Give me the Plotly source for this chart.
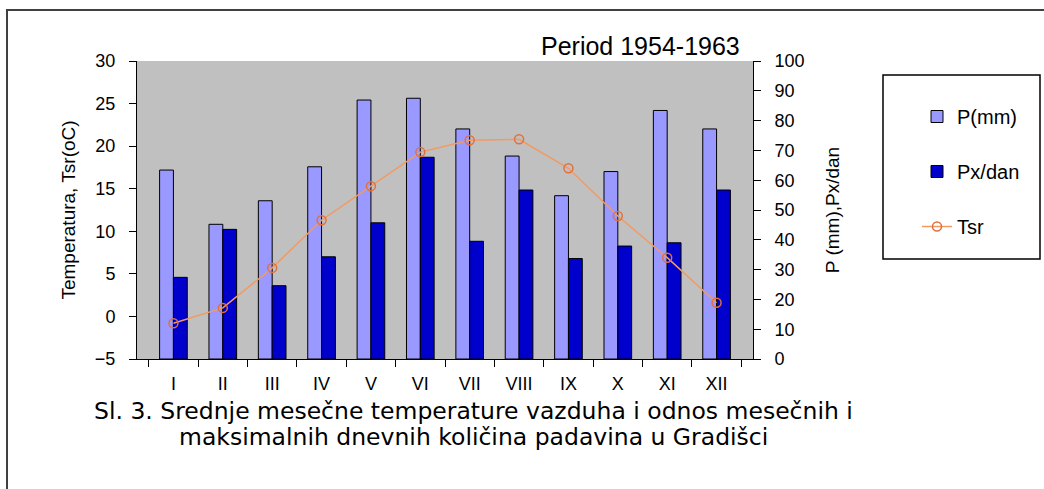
import plotly.graph_objects as go

# ---- data ----
months = ["I", "II", "III", "IV", "V", "VI", "VII", "VIII", "IX", "X", "XI", "XII"]
p_mm = [63.4, 45.2, 53.1, 64.5, 86.9, 87.5, 77.2, 68.1, 54.8, 62.9, 83.4, 77.2]
px_dan = [27.4, 43.5, 24.6, 34.3, 45.7, 67.7, 39.5, 56.7, 33.7, 37.9, 39.0, 56.7]
tsr = [-0.8, 1.0, 5.7, 11.3, 15.3, 19.3, 20.7, 20.8, 17.4, 11.8, 6.9, 1.6]

temp_ticks = [-5, 0, 5, 10, 15, 20, 25, 30]
prec_ticks = [0, 10, 20, 30, 40, 50, 60, 70, 80, 90, 100]

period_text = "Period 1954-1963"
caption_1 = "Sl. 3. Srednje mesečne temperature vazduha i odnos mesečnih i"
caption_2 = "maksimalnih dnevnih količina padavina u Gradišci"

# ---- geometry (pixels) ----
W, H = 1044, 489
PL, PR, PT, PB = 137, 753, 61, 359
PW, PH = PR - PL, PB - PT


def px_x(px):
    return (px - PL) / PW


def px_y(py):
    return (PB - py) / PH


FONT = "Liberation Sans, Arial, sans-serif"
CAP_FONT = "DejaVu Sans, Verdana, sans-serif"

fig = go.Figure()
fig.add_trace(go.Bar(
    x=months, y=p_mm, name="P(mm)", yaxis="y", legendgroup="a",
    marker=dict(color="#9999ff", line=dict(color="black", width=1)),
))
fig.add_trace(go.Bar(
    x=months, y=px_dan, name="Px/dan", yaxis="y", legendgroup="b",
    marker=dict(color="#0000cc", line=dict(color="black", width=1)),
))
fig.add_trace(go.Scatter(
    x=months, y=tsr, name="Tsr", yaxis="y2", legendgroup="c",
    mode="lines+markers",
    line=dict(color="#f29a62", width=1.5),
    marker=dict(symbol="circle-open", size=9, color="#e07040",
                line=dict(width=1.5, color="#e07040")),
))

axis_common = dict(
    showline=True, linecolor="black", linewidth=1,
    ticks="outside", tickcolor="black", ticklen=7, tickwidth=1,
    showgrid=False, zeroline=False,
    tickfont=dict(family=FONT, size=18, color="black"),
)

fig.update_layout(
    width=W, height=H, autosize=False,
    margin=dict(l=PL, r=W - PR, t=PT, b=H - PB, pad=0),
    paper_bgcolor="white", plot_bgcolor="#c0c0c0",
    barmode="group", bargap=0.44, bargroupgap=0.0,
    font=dict(family=FONT, color="black"),
    xaxis=dict(
        type="category", tickson="boundaries", **axis_common,
        ticklabelstandoff=8,
    ),
    yaxis=dict(
        side="right", range=[0, 100], tickvals=prec_ticks, **axis_common,
        ticklabelstandoff=10,
        title=dict(text="P (mm),Px/dan", font=dict(family=FONT, size=19), standoff=22),
    ),
    yaxis2=dict(
        side="left", overlaying="y", range=[-5, 30], tickvals=temp_ticks, **axis_common,
        ticklabelstandoff=10,
        title=dict(text="Temperatura, Tsr(oC)", font=dict(family=FONT, size=19), standoff=14),
    ),
    legend=dict(
        x=px_x(917), y=px_y(97), xanchor="left", yanchor="top",
        bgcolor="rgba(0,0,0,0)", borderwidth=0,
        traceorder="grouped", tracegroupgap=26,
        font=dict(family=FONT, size=20, color="black"),
    ),
    shapes=[
        # outer frame
        dict(type="rect", xref="paper", yref="paper",
             x0=px_x(7), x1=px_x(1060), y0=px_y(10), y1=px_y(500),
             line=dict(color="#404040", width=2), fillcolor="rgba(0,0,0,0)", layer="below"),
        # legend box
        dict(type="rect", xref="paper", yref="paper",
             x0=px_x(883), x1=px_x(1040), y0=px_y(75), y1=px_y(259),
             line=dict(color="black", width=1.5), fillcolor="rgba(0,0,0,0)"),
    ],
    annotations=[
        dict(text=period_text, xref="paper", yref="paper", x=px_x(742), y=px_y(46),
             xanchor="right", yanchor="middle", showarrow=False,
             font=dict(family=FONT, size=25, color="black")),
        dict(text=caption_1, xref="paper", yref="paper", x=px_x(473), y=px_y(411),
             xanchor="center", yanchor="middle", showarrow=False,
             font=dict(family=CAP_FONT, size=23.5, color="black")),
        dict(text=caption_2, xref="paper", yref="paper", x=px_x(473), y=px_y(437),
             xanchor="center", yanchor="middle", showarrow=False,
             font=dict(family=CAP_FONT, size=23.5, color="black")),
    ],
)

fig.write_html(
    "out.html",
    config={"displayModeBar": False},
    post_script="document.body.style.margin='0';document.body.style.overflow='hidden';",
)
